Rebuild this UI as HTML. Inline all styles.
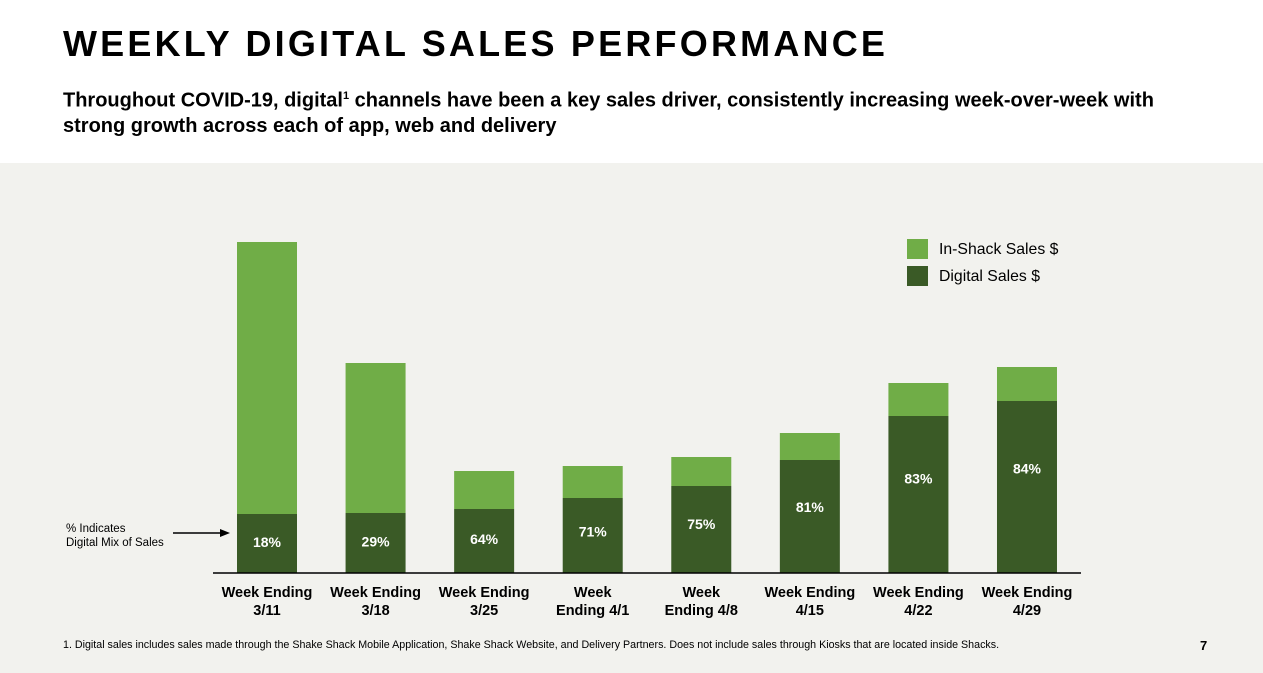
<!DOCTYPE html>
<html><head><meta charset="utf-8"><style>
body{margin:0;width:1263px;height:673px;overflow:hidden;background:#fff;font-family:"Liberation Sans",Arial,sans-serif;position:relative}
.t{position:absolute;color:#000;white-space:nowrap}
</style></head><body>
<div class="t" style="left:63px;top:23px;font-size:36px;font-weight:bold;letter-spacing:3.2px">WEEKLY DIGITAL SALES PERFORMANCE</div>
<div class="t" style="left:63px;top:84px;font-size:20px;font-weight:bold;line-height:25px">Throughout COVID-19, digital<sup style="font-size:11px">1</sup> channels have been a key sales driver, consistently increasing week-over-week with<br>strong growth across each of app, web and delivery</div>
<div style="position:absolute;left:0;top:163px;width:1263px;height:510px;background:#f2f2ee"></div>
<svg id="c" width="1263" height="673" style="position:absolute;left:0;top:0" font-family="Liberation Sans, Arial, sans-serif"></svg>
<div class="t" style="left:63px;top:639px;font-size:10.7px">1. Digital sales includes sales made through the Shake Shack Mobile Application, Shake Shack Website, and Delivery Partners. Does not include sales through Kiosks that are located inside Shacks.</div>
<div class="t" style="left:1200px;top:638px;font-size:13px;font-weight:bold">7</div>
<script>
const categories=[["Week Ending","3/11"],["Week Ending","3/18"],["Week Ending","3/25"],["Week","Ending 4/1"],["Week","Ending 4/8"],["Week Ending","4/15"],["Week Ending","4/22"],["Week Ending","4/29"]];
const digitalSales=[59,60,64,75,87,113,157,172];
const totalSales=[331,210,102,107,116,140,190,206];
const digitalMix=["18%","29%","64%","71%","75%","81%","83%","84%"];
const NS="http://www.w3.org/2000/svg",svg=document.getElementById('c');
const base=573,x0=237,step=108.57,bw=60;
const y=v=>base-v;
const x=i=>x0+i*step;
function mk(t,a,txt){const e=document.createElementNS(NS,t);for(const k in a)e.setAttribute(k,a[k]);if(txt!=null)e.textContent=txt;svg.appendChild(e);return e;}
categories.forEach((c,i)=>{
  let r=mk('rect',{x:x(i),y:y(totalSales[i]),width:bw,height:totalSales[i]-digitalSales[i],fill:'#70ad47'});
  
  
  r=mk('rect',{x:x(i),y:y(digitalSales[i]),width:bw,height:digitalSales[i],fill:'#3a5a26'});
  
  
  const ly=y(digitalSales[i])+28+(digitalSales[i]-59)*0.35+5;
  let t=mk('text',{x:x(i)+bw/2,y:ly,'text-anchor':'middle','font-size':14,'font-weight':'bold',fill:'#fff'},digitalMix[i]);
  
  
  c.forEach((s,j)=>{
    let l=mk('text',{x:x(i)+bw/2,y:597+j*18,'text-anchor':'middle','font-size':14.5,'font-weight':'bold',fill:'#000'},s);
    
    
  });
});
let ax=mk('line',{x1:213,x2:1081,y1:base,y2:base,stroke:'#000','stroke-width':1.5});


let a=mk('line',{x1:173,x2:222,y1:533,y2:533,stroke:'#000','stroke-width':1.5});


let ah=mk('polygon',{points:'230,533 220,529 220,537',fill:'#000'});


[["% Indicates",532],["Digital Mix of Sales",546]].forEach(([s,yy])=>{
  let e=mk('text',{x:66,y:yy,'font-size':11.5,fill:'#000'},s);
  
  
});
[["In-Shack Sales $",'#70ad47',239],["Digital Sales $",'#3a5a26',266]].forEach(([s,col,yy],i)=>{
  let r=mk('rect',{x:907,y:yy,width:21,height:20,fill:col});
  
  
  let t=mk('text',{x:939,y:yy+15,'font-size':15.8,fill:'#000'},s);
  
  
});
</script>
</body></html>
